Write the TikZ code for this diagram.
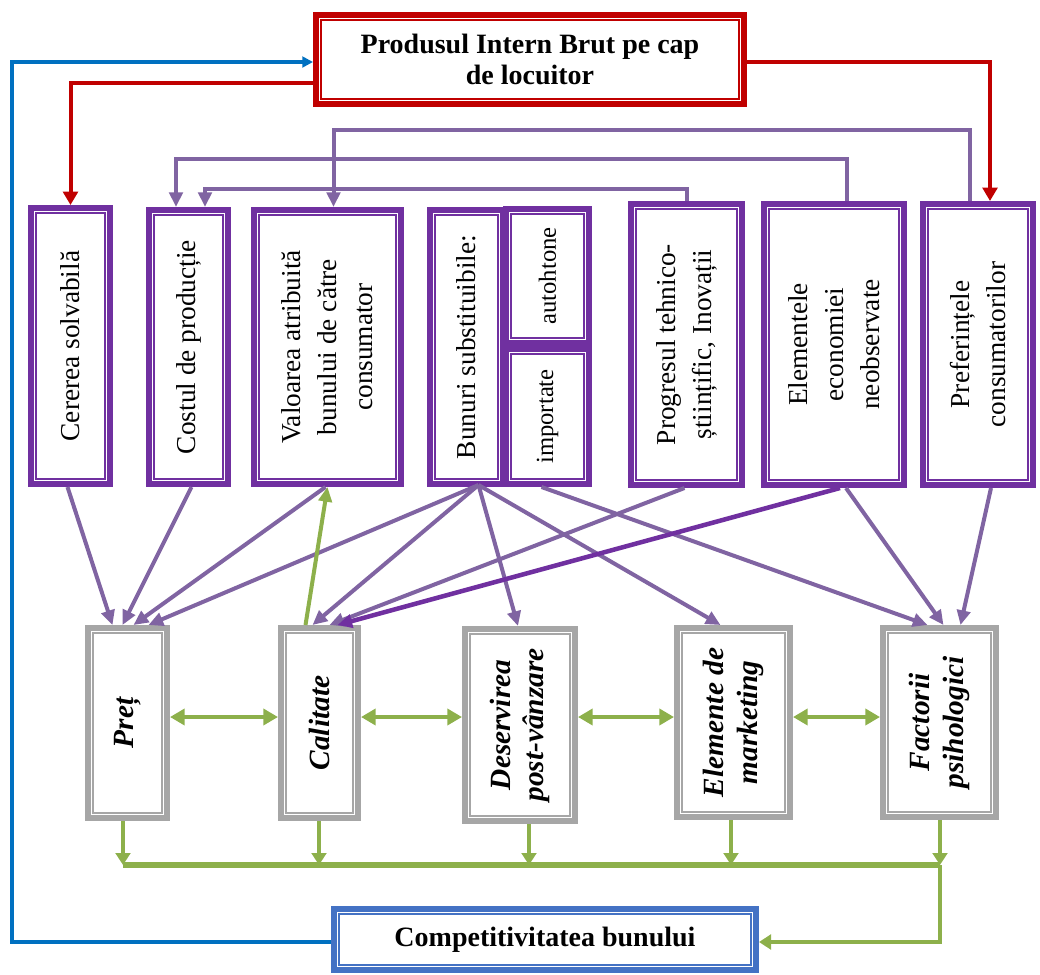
\documentclass[tikz,border=0pt]{standalone}
\usepackage{fontspec}
\setmainfont{Liberation Serif}
\usetikzlibrary{arrows.meta,calc}
\definecolor{pibred}{HTML}{C00000}
\definecolor{boxpurple}{HTML}{7030A0}
\definecolor{linepurple}{HTML}{8064A2}
\definecolor{boxgrey}{HTML}{A6A6A6}
\definecolor{boxblue}{HTML}{4472C4}
\definecolor{lineblue}{HTML}{0070C0}
\definecolor{lgreen}{HTML}{8DB04B}
\tikzset{
  fbox/.style={draw=#1, line width=4.6pt, fill=white, inner sep=0pt},
  inbox/.style={draw=#1, line width=1.2pt},
  toptext/.style={rotate=90, align=center, font=\fontsize{20.5}{27}\selectfont},
  smalltext/.style={rotate=90, align=center, font=\fontsize{18.5}{22}\selectfont},
  bottext/.style={rotate=90, align=center, font=\fontsize{22}{25}\selectfont\bfseries\itshape},
  titletext/.style={align=center, font=\fontsize{21}{23.5}\selectfont\bfseries},
  conn/.style={draw=linepurple, line width=3pt, -{Triangle[length=11pt,width=10pt]}},
  darkconn/.style={draw=boxpurple, line width=3.4pt, -{Triangle[length=11pt,width=10pt]}},
  redconn/.style={draw=pibred, line width=3pt, -{Triangle[length=10pt,width=11pt]}},
  blueconn/.style={draw=lineblue, line width=3pt, -{Triangle[length=8pt,width=8pt]}},
  gconn/.style={draw=lgreen, line width=3pt, -{Triangle[length=9pt,width=11pt]}},
  gbus/.style={draw=lgreen, line width=3.8pt},
  gdouble/.style={draw=lgreen, line width=3.4pt, {Triangle[length=11pt,width=12pt]}-{Triangle[length=11pt,width=12pt]}},
  gup/.style={draw=lgreen, line width=3pt, -{Triangle[length=11pt,width=10pt]}},
  gfinal/.style={draw=lgreen, line width=3.6pt, -{Triangle[length=9pt,width=11pt]}},
}
% #1 name, #2 colour, #3 x1, #4 y1, #5 x2, #6 y2 (pixels)
\newcommand\framedbox[6]{%
  \node[fbox=#2, minimum width={(#5-#3)*0.75pt-4.6pt}, minimum height={(#6-#4)*0.75pt-4.6pt}]
    (#1) at ({(#3+#5)/2},{(#4+#6)/2}) {};
  \draw[inbox=#2] ($(#1.north west)+(8,8)$) rectangle ($(#1.south east)+(-8,-8)$);
}
\begin{document}
\begin{tikzpicture}[x=0.75pt,y=-0.75pt]
\useasboundingbox (0,0) rectangle (1040,975);
% boxes
\framedbox{pib}{pibred}{313}{12}{747}{107}
\framedbox{cer}{boxpurple}{28}{205}{113}{487}
\framedbox{cost}{boxpurple}{146}{207}{231}{487}
\framedbox{val}{boxpurple}{251}{207}{404}{487}
\framedbox{bun}{boxpurple}{427}{207}{506}{487}
\framedbox{aut}{boxpurple}{503}{206}{592}{346}
\framedbox{imp}{boxpurple}{503}{346}{592}{487}
\framedbox{prog}{boxpurple}{628}{201}{745}{488}
\framedbox{elec}{boxpurple}{761}{201}{907}{488}
\framedbox{pref}{boxpurple}{920}{201}{1036}{488}
\framedbox{pret}{boxgrey}{85}{625}{170}{821}
\framedbox{cal}{boxgrey}{278}{625}{361}{821}
\framedbox{des}{boxgrey}{462}{626}{578}{824}
\framedbox{mkt}{boxgrey}{674}{625}{793}{820}
\framedbox{fac}{boxgrey}{880}{625}{999}{820}
\framedbox{comp}{boxblue}{331}{906}{759}{973}
% texts
\node[titletext] (pibt) at (pib) {Produsul Intern Brut pe cap\\de locuitor};
\node[titletext] (compt) at (comp) {Competitivitatea bunului};
\node[toptext] (cert) at (cer) {Cererea solvabilă};
\node[toptext] (costt) at (cost) {Costul de producție};
\node[toptext] (valt) at (val) {Valoarea atribuită\\bunului de către\\consumator};
\node[toptext] (bunt) at (bun) {Bunuri substituibile:};
\node[smalltext] (autt) at (aut) {autohtone};
\node[smalltext] (impt) at (imp) {importate};
\node[toptext] (progt) at (prog) {Progresul tehnico-\\științific, Inovații};
\node[toptext] (elect) at (elec) {Elementele\\economiei\\neobservate};
\node[toptext] (preft) at (pref) {Preferințele\\consumatorilor};
\node[bottext] (prett) at (pret) {Preț};
\node[bottext] (calt) at (cal) {Calitate};
\node[bottext] (dest) at (des) {Deservirea\\post-vânzare};
\node[bottext] (mktt) at (mkt) {Elemente de\\marketing};
\node[bottext] (fact) at (fac) {Factorii\\psihologici};
% red connectors
\draw[redconn] ($(pib.west)+(0,23.5)$) -| (cer.north);
\draw[redconn] ($(pib.east)+(0,2.5)$) -| ($(pref.north)+(12,0)$);
% blue feedback
\coordinate (bl) at (12,500);
\draw[blueconn] ($(comp.west)+(0,2.5)$) -| (bl) |- ($(pib.west)+(0,2.5)$);
% purple top connectors
\draw[conn] ($(pref.north)+(-8,0)$) -- ($(pref.north)+(-8,-71)$) -| ($(val.north)+(6,0)$);
\draw[conn] ($(elec.north)+(13,0)$) -- ($(elec.north)+(13,-42)$) -| ($(cost.north)+(-12.5,0)$);
\draw[conn] (prog.north) -- ($(prog.north)+(0,-12)$) -| ($(cost.north)+(16.5,0)$);
% purple diagonals
\draw[conn] ($(cer.south)+(-3,0)$) -- ($(pret.north)+(-15,0)$);
\draw[conn] ($(cost.south)+(3,0)$) -- ($(pret.north)+(-5,0)$);
\draw[conn] ($(val.south)+(-2,0)$) -- ($(pret.north)+(6,0)$);
\draw[conn] ($(bun.south)+(12,-2)$) -- ($(pret.north)+(21,0)$);
\draw[conn] ($(bun.south)+(12,-2)$) -- ($(cal.north)+(-7,0)$);
\draw[conn] ($(bun.south)+(12,-2)$) -- ($(des.north)+(-2,0)$);
\draw[conn] ($(bun.south)+(12,-2)$) -- ($(mkt.north)+(-13,0)$);
\draw[conn] ($(imp.south)+(-6,0)$) -- ($(fac.north)+(-12,0)$);
\draw[conn] ($(prog.south)+(-2,0)$) -- ($(cal.north)+(10,0)$);
\draw[conn] ($(elec.south)+(12,0)$) -- ($(fac.north)+(4,0)$);
\draw[conn] ($(pref.south)+(13,0)$) -- ($(fac.north)+(21,0)$);
\draw[darkconn] ($(elec.south)+(6,0)$) -- ($(cal.north)+(18,0)$);
% green
\draw[gup] ($(cal.north)+(-14,0)$) -- (val.south);
\coordinate (hmid) at (0,717);
\draw[gdouble] (pret.east |- hmid) -- (cal.west |- hmid);
\draw[gdouble] (cal.east |- hmid) -- (des.west |- hmid);
\draw[gdouble] (des.east |- hmid) -- (mkt.west |- hmid);
\draw[gdouble] (mkt.east |- hmid) -- (fac.west |- hmid);
\coordinate (b1) at (123,865);
\coordinate (b2) at (319,865);
\coordinate (b3) at (529,865);
\coordinate (b4) at (731,865);
\coordinate (b5) at (940,865);
\draw[gbus] (b1) -- (b5);
\draw[gconn] (pret.south -| b1) -- (b1);
\draw[gconn] (cal.south -| b2) -- (b2);
\draw[gconn] (des.south -| b3) -- (b3);
\draw[gconn] (mkt.south -| b4) -- (b4);
\draw[gconn] (fac.south -| b5) -- (b5);
\draw[gfinal] (b5) |- ($(comp.east)+(0,2.5)$);
\end{tikzpicture}
\end{document}
